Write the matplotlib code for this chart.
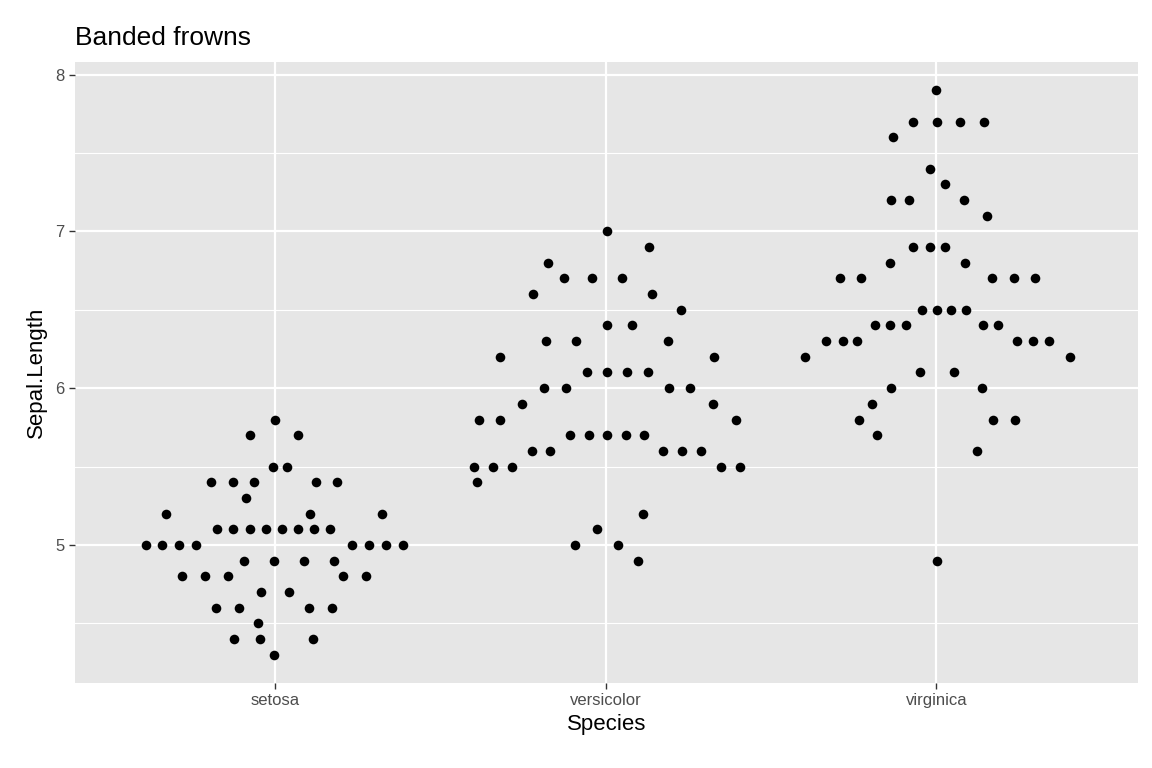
import matplotlib.pyplot as plt
import numpy as np

plt.rcParams['font.family'] = ['Liberation Sans', 'DejaVu Sans']

species = ['setosa', 'versicolor', 'virginica']
centers_px = [275, 605, 937]
px_per_unit = 331.0

# (value, x pixel readings) per species
setosa = [
    (5.8, [275]), (5.7, [250, 298]), (5.5, [273, 287]),
    (5.4, [211, 233, 254, 316, 337]), (5.3, [246]), (5.2, [166, 310, 382]),
    (5.1, [217, 233, 250, 266, 282, 298, 314, 330]),
    (5.0, [146, 162, 179, 196, 352, 369, 386, 403]),
    (4.9, [244, 274, 304, 334]), (4.8, [182, 205, 228, 343, 366]),
    (4.7, [261, 289]), (4.6, [216, 239, 309, 332]), (4.5, [258]),
    (4.4, [234, 260, 313]), (4.3, [274]),
]
versicolor = [
    (7.0, [606]), (6.9, [648]), (6.8, [547]), (6.7, [563, 591, 621]),
    (6.6, [532, 651]), (6.5, [680]), (6.4, [606, 631]), (6.3, [545, 575, 667]),
    (6.2, [499, 713]), (6.1, [586, 606, 626, 647]), (6.0, [543, 565, 668, 689]),
    (5.9, [521, 712]), (5.8, [478, 499, 735]), (5.7, [569, 588, 606, 625, 643]),
    (5.6, [531, 549, 662, 681, 700]), (5.5, [473, 492, 511, 720, 739]),
    (5.4, [476]), (5.2, [642]), (5.1, [596]), (5.0, [574, 617]), (4.9, [637]),
]
virginica = [
    (7.9, [937]), (7.7, [914, 938, 961, 985]), (7.6, [894]), (7.4, [931]),
    (7.3, [946]), (7.2, [892, 910, 965]), (7.1, [988]), (6.9, [914, 931, 946]),
    (6.8, [891, 966]), (6.7, [840, 862, 993, 1015, 1036]),
    (6.5, [923, 938, 952, 967]), (6.4, [876, 891, 907, 984, 999]),
    (6.3, [826, 843, 858, 1018, 1034, 1050]), (6.2, [805, 1071]),
    (6.1, [921, 955]), (6.0, [892, 983]), (5.9, [873]), (5.8, [860, 994, 1016]),
    (5.7, [878]), (5.6, [978]), (4.9, [938]),
]

fig = plt.figure(figsize=(11.52, 7.68), dpi=100)
ax = fig.add_axes([75/1152, 1 - 683/768, (1138-75)/1152, (683-62)/768])
ax.set_facecolor('#E6E6E6')

for i, rows in enumerate([setosa, versicolor, virginica]):
    xs, ys = [], []
    for val, pxs in rows:
        for p in pxs:
            xs.append(i + 1 + (p - centers_px[i]) / px_per_unit)
            ys.append(val)
    ax.scatter(xs, ys, s=48, color='black', linewidths=0, zorder=3)

ax.set_xlim(0.394, 3.61)
ax.set_ylim(4.12, 8.08)
ax.set_xticks([1, 2, 3])
ax.set_xticklabels(species)
ax.set_yticks([5, 6, 7, 8])
ax.set_yticks([4.5, 5.5, 6.5, 7.5], minor=True)
ax.grid(which='major', color='white', linewidth=1.6)
ax.grid(which='minor', axis='y', color='white', linewidth=0.8)
ax.set_axisbelow(True)
for s in ax.spines.values():
    s.set_visible(False)
ax.tick_params(which='major', colors='#4D4D4D', labelsize=12, length=4, width=1, color='#333333')
ax.tick_params(which='minor', length=0)
ax.set_xlabel('Species', fontsize=16, labelpad=4)
ax.set_ylabel('Sepal.Length', fontsize=16, labelpad=6)
ax.set_title('Banded frowns', loc='left', fontsize=19, pad=12)

fig.savefig('out.png', dpi=100)
